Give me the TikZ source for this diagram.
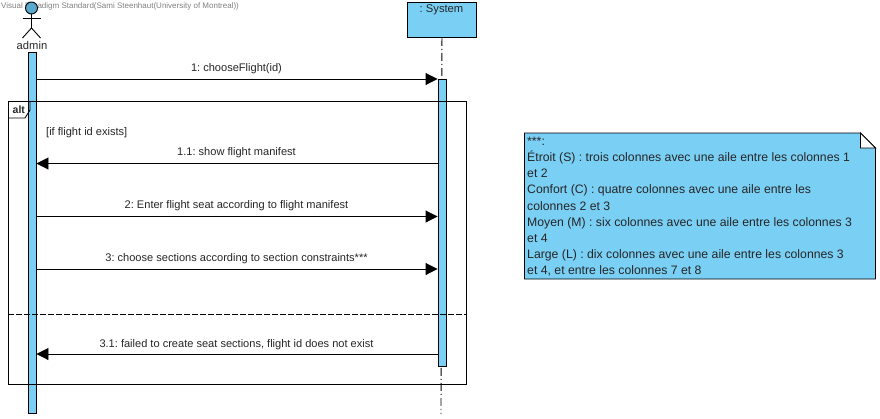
\documentclass[tikz,border=0pt]{standalone}
\usepackage{fontspec}
\setmainfont{Liberation Sans}
\usetikzlibrary{arrows.meta}
\definecolor{vpblue}{RGB}{122,207,245}
\definecolor{vphead}{RGB}{90,170,205}
\frenchspacing
\tikzset{
  x=1pt,y=-1pt,
  line/.style={draw=black,line width=0.9pt},
  bar/.style={line,fill=vpblue,inner sep=0pt,minimum width=8pt,anchor=north},
  msg/.style={line,-{Triangle[length=12pt,width=12pt,fill=black]}},
  lifeline/.style={draw=black,line width=0.9pt,dash pattern=on 8pt off 3pt on 1pt off 3pt},
  lbl/.style={inner sep=0pt,font=\fontsize{11.05}{13}\selectfont,text=black!85},
}
\begin{document}
\begin{tikzpicture}
\useasboundingbox (0,0) rectangle (880,418);
% watermark
\node[anchor=west,inner sep=0pt,font=\fontsize{8}{9}\selectfont,text=black!50] (wm) at (1,6.5) {Visual Paradigm Standard(Sami Steenhaut(University of Montreal))};
% actor
\node[circle,line,fill=vphead,minimum size=12pt,inner sep=0pt] (head) at (31.5,8) {};
\coordinate (hip) at (31.5,28);
\coordinate (armL) at (22.5,18);
\coordinate (armR) at (40.5,18);
\coordinate (legL) at (22.5,38);
\coordinate (legR) at (40.5,38);
\draw[line] (head.south) -- (hip);
\draw[line] (armL) -- (armR);
\draw[line] (legL) -- (hip) -- (legR);
\node[lbl,font=\fontsize{11.2}{13}\selectfont] (admin) at (32,45.5) {admin};
% system
\node[line,fill=vpblue,anchor=north west,minimum width=69pt,minimum height=35pt,inner sep=0pt] (sys) at (407,2) {};
\node[lbl,font=\fontsize{11.2}{13}\selectfont] (systxt) at (441.5,10) {: System};
\coordinate (lifeEnd) at (441,414);
\draw[lifeline] (sys.south) -- (lifeEnd);
% bars
\node[bar,minimum height=361pt] (abar) at (32,52) {};
\node[bar,minimum height=287pt] (sbar) at (442,79) {};
% frame
\node[line,anchor=north west,minimum width=458pt,minimum height=283pt,inner sep=0pt] (frame) at (8,101) {};
\coordinate (tabA) at (30,101);
\coordinate (tabB) at (30,110);
\coordinate (tabC) at (25,118);
\coordinate (tabD) at (8,118);
\draw[line] (tabA) -- (tabB) -- (tabC) -- (tabD);
\node[lbl,font=\fontsize{10.5}{12}\selectfont\bfseries,anchor=west] (alt) at (12.5,109.5) {alt};
\node[lbl,anchor=west] (guard) at (46,132.5) {[if flight id exists]};
\coordinate (sepL) at (8,314);
\coordinate (sepR) at (466,314);
\draw[line,dash pattern=on 6pt off 2pt] (sepL) -- (sepR);
% messages
\coordinate (a1) at (abar.east |- 0,79);
\coordinate (s1) at (sbar.west |- 0,79);
\coordinate (a2) at (abar.east |- 0,163.5);
\coordinate (s2) at (sbar.west |- 0,163.5);
\coordinate (a3) at (abar.east |- 0,216.5);
\coordinate (s3) at (sbar.west |- 0,216.5);
\coordinate (a4) at (abar.east |- 0,269);
\coordinate (s4) at (sbar.west |- 0,269);
\coordinate (a5) at (abar.east |- 0,354);
\coordinate (s5) at (sbar.west |- 0,354);
\draw[msg] (a1) -- (s1);
\draw[msg] (s2) -- (a2);
\draw[msg] (a3) -- (s3);
\draw[msg] (a4) -- (s4);
\draw[msg] (s5) -- (a5);
\node[lbl] (m1) at (236.5,69) {1: chooseFlight(id)};
\node[lbl] (m2) at (236.5,153) {1.1: show flight manifest};
\node[lbl] (m3) at (236.5,206) {2: Enter flight seat according to flight manifest};
\node[lbl] (m4) at (236.5,259) {3: choose sections according to section constraints***};
\node[lbl] (m5) at (236.5,344.5) {3.1: failed to create seat sections, flight id does not exist};
% note
\coordinate (nA) at (524.5,133);
\coordinate (nB) at (860.5,133);
\coordinate (nC) at (875.5,148);
\coordinate (nD) at (875.5,279);
\coordinate (nE) at (524.5,279);
\coordinate (nF) at (860.5,148);
\path[line,fill=vpblue] (nA) -- (nB) -- (nC) -- (nD) -- (nE) -- cycle;
\path[line,fill=white] (nB) -- (nC) -- (nF) -- cycle;
\node[anchor=north west,inner sep=0pt,align=left,font=\fontsize{12.25}{16.1}\selectfont,text=black!85] (note) at (527,137) {***:\\Étroit (S) : trois colonnes avec une aile entre les colonnes 1\\et 2\\Confort (C) : quatre colonnes avec une aile entre les\\colonnes 2 et 3\\Moyen (M) : six colonnes avec une aile entre les colonnes 3\\et 4\\Large (L) : dix colonnes avec une aile entre les colonnes 3\\et 4, et entre les colonnes 7 et 8};
\end{tikzpicture}
\end{document}
